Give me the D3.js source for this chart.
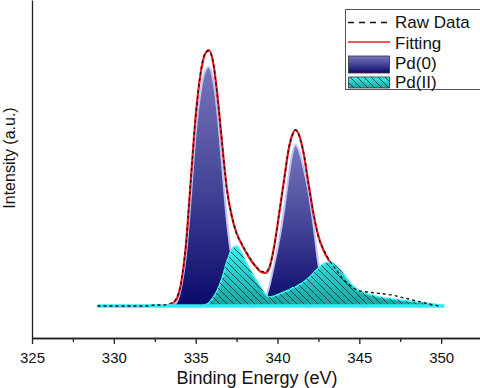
<!DOCTYPE html>
<html lang="en">
<head>
<meta charset="UTF-8">
<title>Pd 3d XPS</title>
<style>
  body { margin: 0; background: #fff; }
  svg text { font-family: Arial, "Liberation Sans", sans-serif; fill: #111; }
</style>
</head>
<body>
<svg width="480" height="388"></svg>
<script src="https://d3js.org/d3.v7.min.js"></script>
<script>

// binding energy grid (eV), finer around the two Pd 3d peaks
var energies = [329, 330, 331, 332, 332.5, 333, 333.5, 333.8, 334.1, 334.4,
  334.7, 335.0, 335.3, 335.55, 335.8, 336.05, 336.3, 336.6, 336.9, 337.2,
  337.5, 337.8, 338.1, 338.4, 338.7, 339.0, 339.25, 339.5, 339.8, 340.1,
  340.4, 340.7, 340.9, 341.1, 341.3, 341.6, 341.9, 342.2, 342.5, 342.8,
  343.2, 343.6, 344.0, 344.5, 345.0, 345.5, 346.0, 346.5, 347.0, 347.5,
  348.0, 348.5, 349.0, 349.5, 350.0];

// intensities in a.u. (background subtracted)
var rawData = [0, 0, 0, 0, 1, 1, 3, 7, 23, 61,
  126, 189, 233, 252, 255, 246, 214, 166, 117, 91,
  72, 63, 54, 46, 39, 35, 34, 39, 59, 93,
  125, 159, 170, 176, 171, 153, 121, 93, 69, 57,
  45, 36, 27, 20, 15, 14, 13, 12, 11, 9,
  7, 5, 3, 1, 0];

var fitting = [null, null, null, null, null, null, 2, 6, 22, 60,
  125, 190, 232, 251, 256, 245, 215, 165, 118, 90,
  73, 62, 53, 45, 39, 34, 33, 38, 60, 92,
  126, 158, 171, 176, 172, 152, 122, 92, 70, 56,
  44, 36, 29, 19, 13, 10, 8, 6, 5, 4,
  3, 2, 1, 0, 0];

var pd0 = [0, 0, 0, 0, 0, 0, 1, 3, 18, 50,
  108, 173, 214, 234, 239, 228, 198, 144, 87, 48,
  24, 10, 4, 1, 0, 2, 7, 20, 42, 66,
  96, 132, 152, 161, 156, 138, 114, 81, 42, 20,
  7, 2, 0, 0, 0, 0, 0, 0, 0, 0,
  0, 0, 0, 0, 0];

var pd2 = [0, 0, 0, 0, 0, 0, 0, 0, 0, 0,
  0, 0, 0, 1, 3, 8, 15, 27, 44, 56,
  60, 53, 43, 34, 26, 18, 12, 9, 10, 12,
  14, 16, 18, 19, 21, 24, 28, 33, 38, 42,
  44, 40, 33, 22, 15, 12, 10, 8, 7, 6,
  5, 4, 3, 2, 1];

var majorTicks = [325, 330, 335, 340, 345, 350];
var minorTicks = [327.5, 332.5, 337.5, 342.5, 347.5, 352.5];
var legendLabels = ['Raw Data', 'Fitting', 'Pd(0)', 'Pd(II)'];

var svg = d3.select('svg');

var x = d3.scaleLinear().domain([325, 355]).range([32, 523]);
var y = d3.scaleLinear().domain([-32, 306]).range([338, 0]);

// gradients + hatch
var defs = svg.append('defs');

var blueGrad = defs.append('linearGradient').attr('id', 'blueGrad')
  .attr('x1', 0).attr('y1', 0).attr('x2', 0).attr('y2', 1);
blueGrad.append('stop').attr('offset', '0%').attr('stop-color', '#7676ba');
blueGrad.append('stop').attr('offset', '45%').attr('stop-color', '#4a4a9c');
blueGrad.append('stop').attr('offset', '100%').attr('stop-color', '#0a0a6c');

var cyanGrad = defs.append('linearGradient').attr('id', 'cyanGrad')
  .attr('x1', 0).attr('y1', 0).attr('x2', 0).attr('y2', 1);
cyanGrad.append('stop').attr('offset', '0%').attr('stop-color', '#36f2f0');
cyanGrad.append('stop').attr('offset', '100%').attr('stop-color', '#17a4a2');

var hatch = defs.append('pattern').attr('id', 'hatch')
  .attr('patternUnits', 'userSpaceOnUse').attr('width', 7).attr('height', 7);
hatch.append('path')
  .attr('d', 'M0,0L7,7M-1,6L1,8M6,-1L8,1')
  .attr('stroke', '#0e3434').attr('stroke-width', 0.9);

function pts(vals) {
  return energies.map(function(e, i) { return { e: e, v: vals[i] }; });
}

// split a component into separate peaks wherever it drops to zero
function peaks(vals) {
  var segs = [], cur = null;
  vals.forEach(function(v, i) {
    if (v > 0) {
      if (!cur) cur = [{ e: energies[Math.max(i - 1, 0)], v: 0 }];
      cur.push({ e: energies[i], v: v });
    } else if (cur) {
      cur.push({ e: energies[i], v: 0 });
      segs.push(cur);
      cur = null;
    }
  });
  if (cur) segs.push(cur);
  return segs;
}

var area = d3.area()
  .x(function(d) { return x(d.e); })
  .y0(y(0))
  .y1(function(d) { return y(d.v); })
  .curve(d3.curveMonotoneX);

var line = d3.line()
  .defined(function(d) { return d.v != null; })
  .x(function(d) { return x(d.e); })
  .y(function(d) { return y(d.v); })
  .curve(d3.curveMonotoneX);

var plot = svg.append('g');

// Pd(0)
plot.selectAll('.pd0').data(peaks(pd0)).enter().append('path')
  .attr('class', 'pd0')
  .attr('d', area)
  .attr('fill', 'url(#blueGrad)')
  .attr('stroke', '#c4c4f4').attr('stroke-width', 2);

// fit envelope
plot.append('path').datum(pts(fitting))
  .attr('d', line).attr('fill', 'none')
  .attr('stroke', '#ec1c24').attr('stroke-width', 2.2);

// Pd(II)
plot.append('path').datum(pts(pd2))
  .attr('d', area)
  .attr('fill', 'url(#cyanGrad)')
  .attr('stroke', '#3ff8f6').attr('stroke-width', 1.6);
plot.append('path').datum(pts(pd2))
  .attr('d', area)
  .attr('fill', 'url(#hatch)');

// baseline
plot.append('line')
  .attr('x1', x(329)).attr('x2', x(350.2))
  .attr('y1', y(0)).attr('y2', y(0))
  .attr('stroke', '#33e8f0').attr('stroke-width', 3.5);

// raw data
plot.append('path').datum(pts(rawData))
  .attr('d', line).attr('fill', 'none')
  .attr('stroke', '#111').attr('stroke-width', 1.3)
  .attr('stroke-dasharray', '3,3');

// axes
var xAxis = svg.append('g').attr('transform', 'translate(0,338)')
  .call(d3.axisBottom(x).tickValues(majorTicks).tickSize(6).tickSizeOuter(0).tickPadding(8));
svg.append('g').attr('transform', 'translate(0,338)')
  .call(d3.axisBottom(x).tickValues(minorTicks).tickSize(4).tickSizeOuter(0).tickFormat(''));
var yAxis = svg.append('g').attr('transform', 'translate(32,0)')
  .call(d3.axisLeft(y).tickValues([]).tickSizeOuter(0));

svg.selectAll('.domain, .tick line').attr('stroke', '#222').attr('stroke-width', 1.3);
xAxis.selectAll('text').style('font-size', '15px').attr('fill', '#222')
  .style('font-family', 'Arial, "Liberation Sans", sans-serif');

svg.append('text')
  .attr('x', 257).attr('y', 384)
  .attr('text-anchor', 'middle')
  .style('font-size', '18px')
  .text('Binding Energy (eV)');

svg.append('text')
  .attr('transform', 'translate(15,158) rotate(-90)')
  .attr('text-anchor', 'middle')
  .style('font-size', '16px')
  .text('Intensity (a.u.)');

// legend
var lg = svg.append('g');
lg.append('rect').attr('x', 345.5).attr('y', 9.5).attr('width', 140).attr('height', 80)
  .attr('fill', '#fff').attr('stroke', '#555').attr('stroke-width', 1);

var rowY = [22.5, 42, 64.5, 82.5];
var rowBase = [27.5, 48.5, 69, 87.5];
lg.append('line').attr('x1', 348).attr('x2', 390).attr('y1', rowY[0]).attr('y2', rowY[0])
  .attr('stroke', '#111').attr('stroke-width', 1.5).attr('stroke-dasharray', '6,5');
lg.append('line').attr('x1', 348).attr('x2', 390).attr('y1', rowY[1]).attr('y2', rowY[1])
  .attr('stroke', '#ec1c24').attr('stroke-width', 1.5);
lg.append('rect').attr('x', 348.5).attr('y', 56).attr('width', 41).attr('height', 17)
  .attr('fill', 'url(#blueGrad)').attr('stroke', '#333').attr('stroke-width', 0.8);
lg.append('rect').attr('x', 348.5).attr('y', 77).attr('width', 41).attr('height', 11)
  .attr('fill', 'url(#cyanGrad)').attr('stroke', '#333').attr('stroke-width', 0.8);
lg.append('rect').attr('x', 348.5).attr('y', 77).attr('width', 41).attr('height', 11)
  .attr('fill', 'url(#hatch)');

lg.selectAll('.lab').data(legendLabels).enter().append('text')
  .attr('class', 'lab')
  .attr('x', 395)
  .attr('y', function(d, i) { return rowBase[i]; })
  .style('font-size', '17px')
  .text(function(d) { return d; });

</script>
</body>
</html>
